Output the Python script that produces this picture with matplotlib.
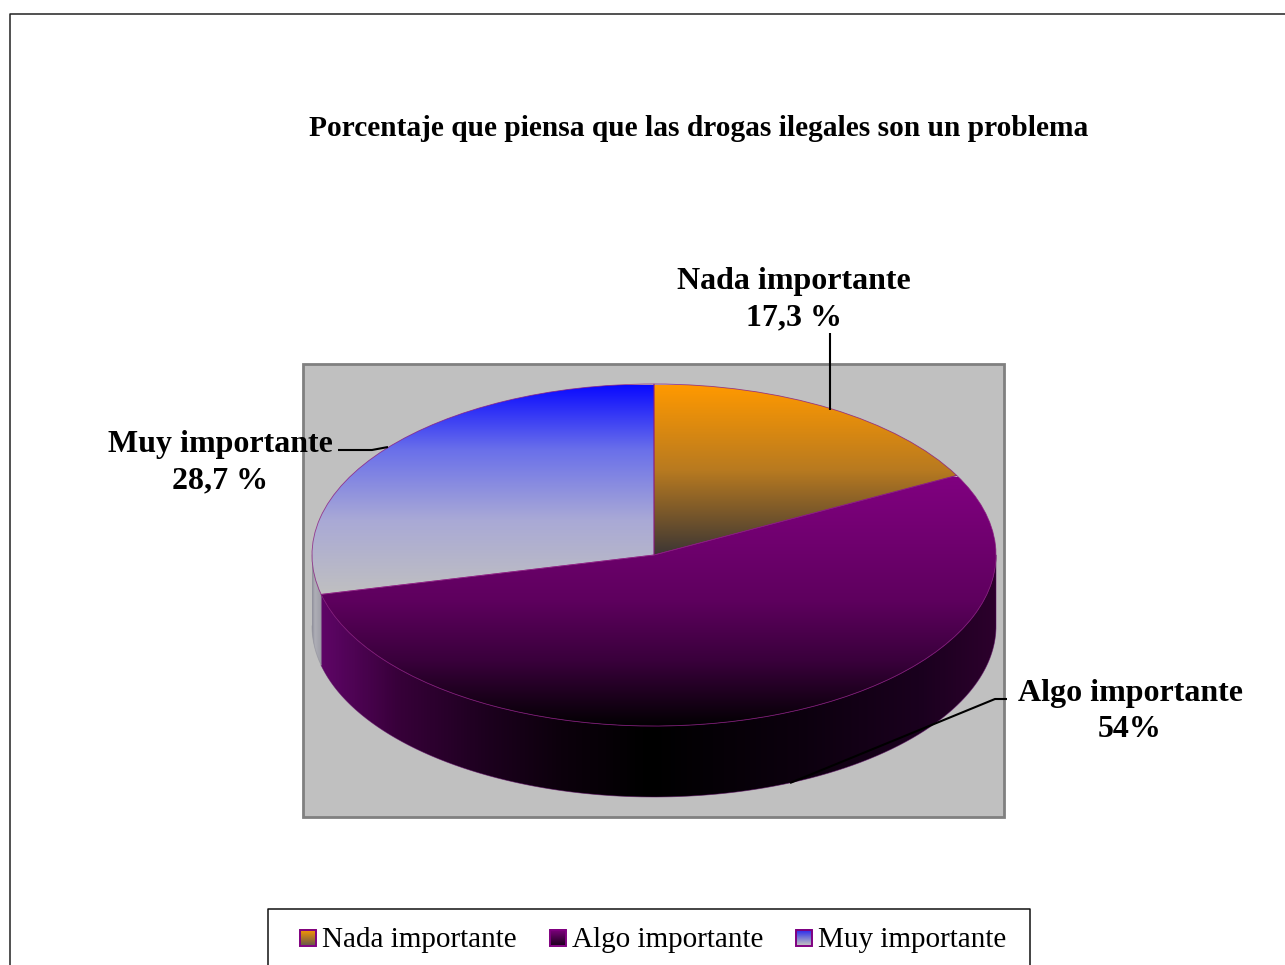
"""Porcentaje pie, faux 3D with gradient fills, old Excel look."""
import numpy as np
import matplotlib
matplotlib.use("Agg")
import matplotlib.pyplot as plt
from matplotlib.colors import LinearSegmentedColormap, to_rgb
from matplotlib.patches import Wedge, Polygon, Rectangle
from matplotlib.transforms import Affine2D

plt.rcParams["font.family"] = ["Liberation Serif", "DejaVu Serif"]

# ---------- data ----------
title = "Porcentaje que piensa que las drogas ilegales son un problema"
categories = ["Nada importante", "Algo importante", "Muy importante"]
values = [17.3, 54.0, 28.7]
value_labels = ["17,3 %", "54%", "28,7 %"]

# ---------- layout (pixels) ----------
W, H = 1285, 965
CX, CY, RX, RY, DEPTH = 654, 555, 342, 171, 71

# vertical gradient per slice: (y pixel, colour)
top_grad = [
    [(385, "#ff9900"), (470, "#b87a20"), (555, "#3c3634")],
    [(477, "#800080"), (540, "#70006f"), (600, "#5e005e"), (660, "#3a003c"), (727, "#020002")],
    [(385, "#0a0aff"), (450, "#6a70ea"), (520, "#a9a9d6"), (596, "#c0c0c0")],
]
side_grad = {
    1: [(312, "#6a0a70"), (322, "#5e0566"), (400, "#360038"), (480, "#1e0020"), (560, "#0c000c"),
        (650, "#000000"), (800, "#0c000e"), (920, "#1a001e"), (996, "#2c002c")],
    2: [(312, "#8e8e9a"), (315, "#aeaeb6"), (322, "#9c9ca6")],
}
swatch_grad = [("#ff9900", "#6a5a48"), ("#800080", "#200020"), ("#2020f0", "#c0c0c0")]


def grad_img(ax, stops, extent, horizontal=False):
    pos = np.array([s[0] for s in stops], dtype=float)
    pos = (pos - pos[0]) / (pos[-1] - pos[0])
    cmap = LinearSegmentedColormap.from_list("g", [(p, to_rgb(s[1])) for p, s in zip(pos, stops)])
    g = np.linspace(0, 1, 512)
    g = g[None, :] if horizontal else g[:, None]
    return ax.imshow(g, cmap=cmap, extent=extent, aspect="auto", interpolation="bilinear",
                     vmin=0, vmax=1)


def arc(t1, t2):
    t = np.radians(np.linspace(t1, t2, 200))
    return CX + RX * np.cos(t), CY - RY * np.sin(t)


fig = plt.figure(figsize=(W / 100, H / 100), dpi=100)
ax = fig.add_axes([0, 0, 1, 1])
ax.set_axis_off()

# outer frame, open on the right and bottom
ax.plot([9.5, 9.5, W], [H, 13.5, 13.5], color="#222222", lw=1.1, zorder=1)

# plot area
ax.add_patch(Rectangle((303, 364), 701, 453, fc="#c0c0c0", ec="#808080", lw=2.0, zorder=1))

# slice angles, clockwise from the top
fracs = np.array(values) / sum(values)
edges = 90 - 360 * np.concatenate([[0], np.cumsum(fracs)])
unit = Affine2D().scale(RX, -RY).translate(CX, CY) + ax.transData

# side wall, lower half only
for i in (2, 1):
    t_hi, t_lo = edges[i], edges[i + 1]
    # visible part of the wall lies between -180 and 0 degrees
    a1, a2 = max(t_lo, -180), min(t_hi, 0)
    xs, ys = arc(a1, a2)
    pts = np.vstack([np.c_[xs, ys], np.c_[xs[::-1], ys[::-1] + DEPTH]])
    poly = Polygon(pts, closed=True, transform=ax.transData, fc="none", ec="none")
    ax.add_patch(poly)
    im = grad_img(ax, side_grad[i], (side_grad[i][0][0], side_grad[i][-1][0], 830, 500), horizontal=True)
    im.set_zorder(2)
    im.set_clip_path(poly)
    ax.plot(pts[:, 0], pts[:, 1], color="#5a0a60" if i == 1 else "#8f8f9a", lw=0.6, alpha=0.6, zorder=3)

# top face
for i in range(3):
    w = Wedge((0, 0), 1, edges[i + 1], edges[i], transform=unit, fc="none", ec="none")
    ax.add_patch(w)
    ys = top_grad[i]
    im = grad_img(ax, ys, (CX - RX - 2, CX + RX + 2, ys[-1][0], ys[0][0]))
    im.set_zorder(4)
    im.set_clip_path(w)
for i in range(3):
    ax.add_patch(Wedge((0, 0), 1, edges[i + 1], edges[i], transform=unit, fc="none",
                       ec="#8a1a80", lw=0.6, alpha=0.8, zorder=5))

# leader lines
line = dict(color="black", lw=1.5, zorder=6, solid_capstyle="butt")
ax.plot([830, 830], [333, 410], **line)
ax.plot([338, 372, 388], [450, 450, 447], **line)
ax.plot([1007, 995, 790], [699, 699, 783], **line)

# text
fs_big = 23
ax.text(698.5, 129, title, ha="center", va="center", fontsize=21.2, fontweight="bold", zorder=7)
label_pos = [(794, 299.5), (1130, 711.5), (220, 462.5)]
for name, val, (x, y) in zip(categories, value_labels, label_pos):
    ax.text(x, y, f"{name}\n{val}", ha="center", va="center", fontsize=fs_big,
            fontweight="bold", linespacing=1.33, zorder=7)

# legend box, cut by the bottom edge
ax.plot([267.5, 267.5, 1029.5, 1029.5], [H, 908.5, 908.5, H], color="#111111", lw=1.1, zorder=6)
leg_x = [300, 550, 796]
for i, (name, x) in enumerate(zip(categories, leg_x)):
    ax.add_patch(Rectangle((x, 930), 15.5, 15.5, fc="none", ec="#800080", lw=1.4, zorder=8))
    c1, c2 = swatch_grad[i]
    im = grad_img(ax, [(0, c1), (1, c2)], (x, x + 15.5, 945.5, 930))
    im.set_zorder(7)
    ax.text(x + 21.5, 940, name, ha="left", va="center", fontsize=21, zorder=8)

ax.set_xlim(0, W)
ax.set_ylim(H, 0)
fig.savefig("out.png", dpi=100, facecolor="white")
